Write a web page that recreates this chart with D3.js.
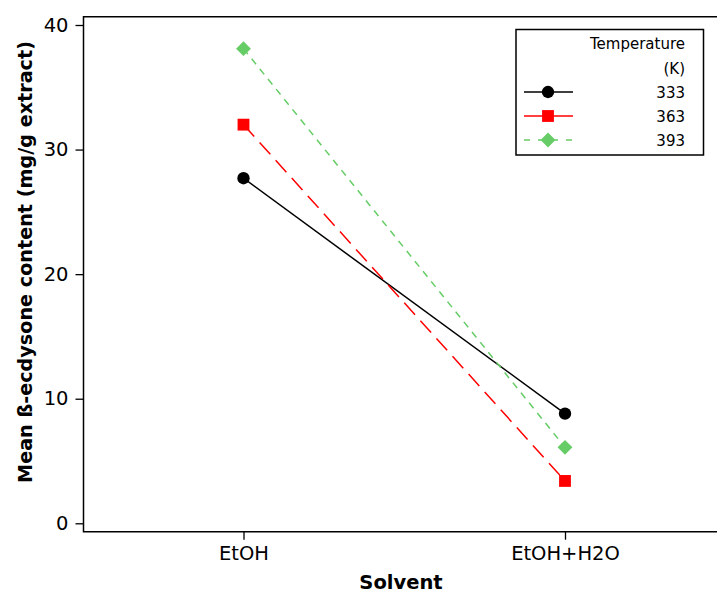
<!DOCTYPE html>
<html>
<head>
<meta charset="utf-8">
<script src="https://cdn.jsdelivr.net/npm/d3@7"></script>
<style>
  html, body { margin: 0; padding: 0; background: #fff; }
  svg { display: block; }
  text { font-family: "DejaVu Sans", Verdana, sans-serif; fill: #000; }
</style>
</head>
<body>
<svg id="chart" width="717" height="593"></svg>
<script>
// Solvent categories on the x axis
const solvents = ["EtOH", "EtOH+H2O"];
// Extraction temperatures (K), one line per temperature
const temperatures = ["333", "363", "393"];
// Mean β-ecdysone content (mg/g extract) per solvent, for each temperature
const values333 = [27.7, 8.8];
const values363 = [32.0, 3.4];
const values393 = [38.1, 6.1];
// Y axis tick values
const yTicks = [0, 10, 20, 30, 40];

const seriesValues = [values333, values363, values393];
const styles = [
  { color: "#000000", dash: null, legendDash: null, symbol: d3.symbolCircle, size: 120, rot: 0 },
  { color: "#ff0000", dash: "16,8", legendDash: null, symbol: d3.symbolSquare, size: 140, rot: 0 },
  { color: "#66cc66", dash: "7,6", legendDash: "6,8", symbol: d3.symbolSquare, size: 110, rot: 45 }
];

const svg = d3.select("#chart");
const W = 717;
const plot = { left: 83.5, top: 16.7, bottom: 531.7, right: 717 };

const y = d3.scaleLinear().domain([0, 40]).range([523.3, 25]);
const x = d3.scalePoint().domain(solvents).range([243.5, 565]);

// Frame: top, left and bottom edges
svg.append("path")
  .attr("d", `M${W},${plot.top}H${plot.left}V${plot.bottom}H${W}`)
  .attr("fill", "none").attr("stroke", "#000").attr("stroke-width", 1.5);

// Y axis
const yAxis = d3.axisLeft(y).tickValues(yTicks).tickSize(8).tickPadding(7);
const gy = svg.append("g").attr("transform", `translate(${plot.left},0)`).call(yAxis);
gy.select(".domain").remove();
gy.selectAll(".tick line").attr("stroke", "#000").attr("stroke-width", 1.3);
gy.selectAll(".tick text").style("font-size", "19.5px").attr("fill", "#000");

// X axis
const xAxis = d3.axisBottom(x).tickSize(8).tickPadding(6);
const gx = svg.append("g").attr("transform", `translate(0,${plot.bottom})`).call(xAxis);
gx.select(".domain").remove();
gx.selectAll(".tick line").attr("stroke", "#000").attr("stroke-width", 1.3);
gx.selectAll(".tick text").style("font-size", "19.5px").attr("fill", "#000");

// Axis titles
svg.append("text")
  .attr("x", 401).attr("y", 589)
  .attr("text-anchor", "middle")
  .style("font-size", "19.5px").style("font-weight", "bold")
  .text("Solvent");

svg.append("text")
  .attr("transform", "translate(32,262) rotate(-90)")
  .attr("text-anchor", "middle")
  .style("font-size", "19.2px").style("font-weight", "bold")
  .text("Mean ß-ecdysone content (mg/g extract)");

// Lines and markers
const line = d3.line().x((d, i) => x(solvents[i])).y(d => y(d));
seriesValues.forEach((vals, k) => {
  const s = styles[k];
  svg.append("path")
    .attr("d", line(vals))
    .attr("fill", "none")
    .attr("stroke", s.color)
    .attr("stroke-width", 1.5)
    .attr("stroke-dasharray", s.dash);
  svg.selectAll(null).data(vals).enter().append("path")
    .attr("d", d3.symbol().type(s.symbol).size(s.size))
    .attr("transform", (d, i) => `translate(${x(solvents[i])},${y(d)}) rotate(${s.rot})`)
    .attr("fill", s.color);
});

// Legend
const lg = svg.append("g");
lg.append("rect")
  .attr("x", 516).attr("y", 29.5).attr("width", 187.5).attr("height", 125.5)
  .attr("fill", "#fff").attr("stroke", "#000").attr("stroke-width", 1.5);
lg.append("text").attr("x", 685).attr("y", 49).attr("text-anchor", "end")
  .style("font-size", "15px").text("Temperature");
lg.append("text").attr("x", 685).attr("y", 74).attr("text-anchor", "end")
  .style("font-size", "15px").text("(K)");
temperatures.forEach((t, k) => {
  const s = styles[k];
  const cy = 92 + k * 24;
  lg.append("line")
    .attr("x1", 524).attr("x2", 573).attr("y1", cy).attr("y2", cy)
    .attr("stroke", s.color).attr("stroke-width", 1.5)
    .attr("stroke-dasharray", s.legendDash);
  lg.append("path")
    .attr("d", d3.symbol().type(s.symbol).size(s.size))
    .attr("transform", `translate(548,${cy}) rotate(${s.rot})`)
    .attr("fill", s.color);
  lg.append("text").attr("x", 685).attr("y", cy + 5.5).attr("text-anchor", "end")
    .style("font-size", "15px").text(t);
});
</script>
</body>
</html>
